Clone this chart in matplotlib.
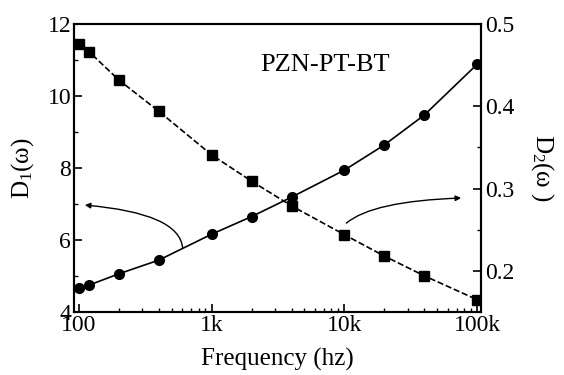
import matplotlib
matplotlib.use("Agg")
import matplotlib.pyplot as plt
from matplotlib.ticker import FixedLocator, NullFormatter, LogLocator

plt.rcParams['font.family'] = ['Liberation Serif', 'DejaVu Serif']
plt.rcParams['mathtext.fontset'] = 'custom'
plt.rcParams['mathtext.rm'] = 'Liberation Serif'
plt.rcParams['mathtext.default'] = 'regular'

freq = [100, 120, 200, 400, 1000, 2000, 4000, 10000, 20000, 40000, 100000]
d1 = [4.66, 4.75, 5.06, 5.44, 6.16, 6.65, 7.19, 7.94, 8.64, 9.47, 10.88]
d2 = [0.476, 0.466, 0.432, 0.394, 0.341, 0.309, 0.279, 0.244, 0.218, 0.194, 0.165]
xticks = [100, 1000, 10000, 100000]
xticklabels = ['100', '1k', '10k', '100k']
title = 'PZN-PT-BT'

fig = plt.figure(figsize=(5.64, 3.75), dpi=100)
ax = fig.add_axes([74/564, 1-312/375, (481-74)/564, (312-24)/375])
ax2 = ax.twinx()

ax.plot(freq, d1, '-', color='black', lw=1.2, marker='o', ms=7, zorder=3)
ax2.plot(freq, d2, '--', color='black', lw=1.2, marker='s', ms=6.5, zorder=3)

ax.set_xscale('log')
ax.set_xlim(92, 107000)
ax.set_ylim(4, 12)
ax2.set_ylim(0.15, 0.5)

ax.set_xticks(xticks)
ax.set_xticklabels(xticklabels)
ax.xaxis.set_minor_locator(LogLocator(base=10, subs=range(2, 10)))
ax.xaxis.set_minor_formatter(NullFormatter())
ax.set_yticks([4, 6, 8, 10, 12])
ax.yaxis.set_minor_locator(FixedLocator([5, 7, 9, 11]))
ax2.set_yticks([0.2, 0.3, 0.4, 0.5])
ax2.set_yticklabels(['0.2', '0.3', '0.4', '0.5'])
ax2.yaxis.set_minor_locator(FixedLocator([0.25, 0.35, 0.45]))

for a in (ax, ax2):
    a.tick_params(which='major', direction='in', length=6, width=1.2, labelsize=17, pad=3)
    a.tick_params(which='minor', direction='in', length=3, width=1.0)
    for s in a.spines.values():
        s.set_linewidth(1.5)
ax.tick_params(axis='x', which='both', top=False, pad=2)
ax.tick_params(axis='y', pad=2)

ax.set_xlabel('Frequency (hz)', fontsize=18, labelpad=9)
ax.set_ylabel('D$_1$(ω)', fontsize=18, labelpad=8)
ax2.set_ylabel('D$_2$(ω )', fontsize=18, rotation=270, labelpad=30)

ax.text(0.617, 0.858, title, transform=ax.transAxes, fontsize=19, ha='center', va='center')

ax.annotate('', xy=(111, 6.97), xytext=(605, 5.78),
            arrowprops=dict(arrowstyle='-|>', color='black', lw=1.0,
                            mutation_scale=8, shrinkA=0, shrinkB=0,
                            connectionstyle='angle3,angleA=95,angleB=-5'))
ax2.annotate('', xy=(75800, 0.2885), xytext=(10350, 0.258),
             arrowprops=dict(arrowstyle='-|>', color='black', lw=1.0,
                             mutation_scale=8, shrinkA=0, shrinkB=0,
                             connectionstyle='angle3,angleA=40,angleB=2'))

fig.savefig('out.png', dpi=100)
